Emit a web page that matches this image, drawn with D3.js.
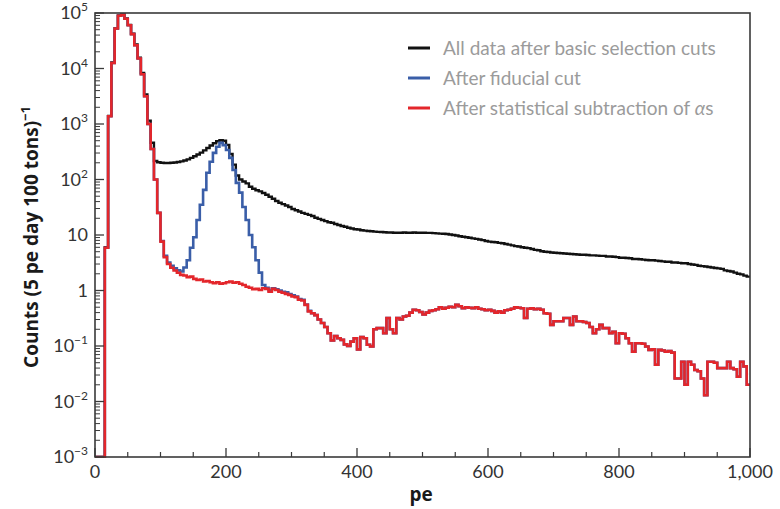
<!DOCTYPE html>
<html><head><meta charset="utf-8">
<script src="https://cdn.jsdelivr.net/npm/d3@7"></script>
<style>body{margin:0;background:#fff}svg{display:block}</style>
</head><body>
<svg id="chart" width="780" height="509"></svg>
<script>
// ---- data (5 pe bins, 0..1000 pe) ----
const binWidth = 5;
const xMax = 1000;
const seriesNames = ["All data after basic selection cuts", "After fiducial cut", "After statistical subtraction of "];
const seriesColors = ["#111111", "#3a5ea8", "#e3262b"];

const allData = [
0,0,0,6.0,1400,12800,53000,90000,94000,80000,
61000,42500,27000,15600,8300,3400,1150,460,215,205,
200,198,198,200,203,207,212,220,230,245,
262,282,305,335,370,410,450,490,510,500,
420,290,185,118,100,92,85,74,68,64,
61,57,53,49,45,41,38,36,34,32,
29.5,28,26.5,25,24,23,22,20.5,19.5,18.6,
17.8,17.0,16.6,15.8,15.1,14.5,14.1,13.5,13.1,12.7,
12.6,12.2,12.0,11.8,11.7,11.5,11.4,11.3,11.2,11.1,
11.1,11.0,11.0,11.0,11.1,11.0,11.0,11.1,11.0,11.0,
11.0,10.9,10.9,10.8,10.7,10.6,10.5,10.4,10.2,10.0,
9.8,9.5,9.3,9.1,8.9,8.7,8.5,8.3,8.1,7.8,
7.6,7.5,7.4,7.2,7.1,6.9,6.7,6.5,6.3,6.2,
6.0,5.9,5.8,5.6,5.4,5.3,5.1,5.0,4.95,4.85,
4.8,4.75,4.7,4.65,4.6,4.55,4.5,4.45,4.4,4.4,
4.35,4.3,4.3,4.25,4.2,4.2,4.1,4.1,4.05,4.0,
3.9,3.9,3.85,3.8,3.7,3.7,3.65,3.6,3.55,3.5,
3.5,3.45,3.4,3.35,3.3,3.3,3.2,3.2,3.15,3.1,
3.1,3.0,2.95,2.9,2.8,2.75,2.7,2.65,2.6,2.55,
2.5,2.45,2.3,2.25,2.2,2.1,2.0,1.95,1.85,1.78];

const fiducial = [
0,0,0,5.9,1380,12600,52500,89000,93000,79000,
60000,41700,26300,15100,7900,3160,1000,355,100,25,
7.8,4.2,3.2,2.8,2.5,2.3,2.2,2.6,3.5,5.9,
9.1,18.6,35,65,132,209,302,389,457,417,
339,245,148,87,58,32,18.6,10,6.0,3.5,
2.1,1.26,1.12,1.0,1.10,1.05,1.0,0.95,0.93,0.86,
0.82,0.78,0.70,0.68,0.56,0.43,0.39,0.36,0.30,0.26,
0.22,0.17,0.126,0.151,0.138,0.129,0.107,0.100,0.120,0.138,
0.087,0.145,0.138,0.105,0.098,0.20,0.21,0.21,0.17,0.32,
0.20,0.17,0.32,0.30,0.34,0.35,0.40,0.45,0.44,0.41,
0.37,0.40,0.43,0.44,0.46,0.50,0.47,0.49,0.51,0.50,
0.55,0.52,0.48,0.50,0.49,0.48,0.50,0.47,0.46,0.44,
0.45,0.43,0.40,0.42,0.40,0.44,0.45,0.47,0.50,0.49,
0.48,0.32,0.47,0.48,0.46,0.47,0.45,0.39,0.38,0.24,
0.28,0.28,0.28,0.32,0.32,0.24,0.34,0.28,0.28,0.27,
0.26,0.22,0.17,0.20,0.24,0.21,0.21,0.17,0.18,0.112,
0.17,0.166,0.138,0.112,0.079,0.112,0.112,0.110,0.098,0.085,
0.087,0.046,0.085,0.083,0.079,0.081,0.076,0.026,0.026,0.052,
0.020,0.052,0.046,0.037,0.035,0.026,0.013,0.052,0.052,0.050,
0.040,0.040,0.040,0.052,0.040,0.038,0.028,0.052,0.043,0.020];

const subtracted = [
0,0,0,5.9,1380,12600,52500,89000,93000,79000,
60000,41700,26300,15100,7900,3160,1000,355,100,25,
7.6,4.0,3.0,2.57,2.29,2.09,1.91,1.86,1.74,1.78,
1.62,1.55,1.58,1.45,1.48,1.41,1.35,1.41,1.32,1.35,
1.41,1.45,1.38,1.41,1.32,1.26,1.17,1.12,1.05,1.07,
1.02,1.10,1.07,0.95,1.07,1.02,0.95,0.91,0.87,0.83,
0.78,0.76,0.68,0.66,0.55,0.42,0.39,0.36,0.30,0.26,
0.22,0.17,0.126,0.151,0.138,0.129,0.107,0.100,0.120,0.138,
0.087,0.145,0.138,0.105,0.098,0.20,0.21,0.21,0.17,0.32,
0.20,0.17,0.32,0.30,0.34,0.35,0.40,0.45,0.44,0.41,
0.37,0.40,0.43,0.44,0.46,0.50,0.47,0.49,0.51,0.50,
0.55,0.52,0.48,0.50,0.49,0.48,0.50,0.47,0.46,0.44,
0.45,0.43,0.40,0.42,0.40,0.44,0.45,0.47,0.50,0.49,
0.48,0.32,0.47,0.48,0.46,0.47,0.45,0.39,0.38,0.24,
0.28,0.28,0.28,0.32,0.32,0.24,0.34,0.28,0.28,0.27,
0.26,0.22,0.17,0.20,0.24,0.21,0.21,0.17,0.18,0.112,
0.17,0.166,0.138,0.112,0.079,0.112,0.112,0.110,0.098,0.085,
0.087,0.046,0.085,0.083,0.079,0.081,0.076,0.026,0.026,0.052,
0.020,0.052,0.046,0.037,0.035,0.026,0.013,0.052,0.052,0.050,
0.040,0.040,0.040,0.052,0.040,0.038,0.028,0.052,0.043,0.020];

const xMajorTicks = [0, 200, 400, 600, 800, 1000];
const xTickLabels = ["0", "200", "400", "600", "800", "1,000"];
const yDecades = [1e-3, 1e-2, 1e-1, 1, 10, 1e2, 1e3, 1e4, 1e5];
const yTickBase = ["10", "10", "10", "1", "10", "10", "10", "10", "10"];
const yTickExp  = ["\u22123", "\u22122", "\u22121", "", "", "2", "3", "4", "5"];

// ---- layout ----
const L = 95, R = 750, T = 13, B = 457;
const svg = d3.select("#chart");
const x = d3.scaleLinear().domain([0, xMax]).range([L, R]);
const y = d3.scaleLog().domain([1e-3, 1e5]).range([B, T]);
const yMin = 1e-3;
const font = "Lato, 'Open Sans', sans-serif";

svg.append("defs").append("clipPath").attr("id", "clip")
  .append("rect").attr("x", L).attr("y", T - 1).attr("width", R - L).attr("height", B - T + 2);

function steps(vals) {
  const pts = vals.map((v, i) => [i * binWidth, v]);
  pts.push([vals.length * binWidth, vals[vals.length - 1]]);
  return pts;
}
const line = d3.line()
  .x(d => x(d[0]))
  .y(d => y(Math.max(d[1], yMin)))
  .curve(d3.curveStepAfter);

const g = svg.append("g").attr("clip-path", "url(#clip)");
[[allData, 0], [fiducial, 1], [subtracted, 2]].forEach(([vals, i]) => {
  g.append("path").attr("d", line(steps(vals)))
    .attr("fill", "none").attr("stroke", seriesColors[i])
    .attr("stroke-width", i === 0 ? 2.4 : 2.6).attr("stroke-linejoin", "miter");
});

// ---- frame & ticks ----
const axisColor = "#3a3a3a";
svg.append("rect").attr("x", L).attr("y", T).attr("width", R - L).attr("height", B - T)
  .attr("fill", "none").attr("stroke", axisColor).attr("stroke-width", 1.6);

const xMinor = d3.range(0, xMax + 1, 50).filter(v => v % 200 !== 0);
svg.append("g").selectAll("line").data(xMinor).join("line")
  .attr("x1", d => x(d)).attr("x2", d => x(d)).attr("y1", B).attr("y2", B - 5)
  .attr("stroke", axisColor).attr("stroke-width", 1.2);
svg.append("g").selectAll("line").data(xMajorTicks).join("line")
  .attr("x1", d => x(d)).attr("x2", d => x(d)).attr("y1", B).attr("y2", B - 9)
  .attr("stroke", axisColor).attr("stroke-width", 1.3);

const yMinor = [];
yDecades.slice(0, -1).forEach(d => { for (let m = 2; m <= 9; m++) yMinor.push(d * m); });
svg.append("g").selectAll("line").data(yMinor).join("line")
  .attr("x1", L).attr("x2", L + 5).attr("y1", d => y(d)).attr("y2", d => y(d))
  .attr("stroke", axisColor).attr("stroke-width", 1);
svg.append("g").selectAll("line").data(yDecades).join("line")
  .attr("x1", L).attr("x2", L + 9).attr("y1", d => y(d)).attr("y2", d => y(d))
  .attr("stroke", axisColor).attr("stroke-width", 1.3);

// ---- tick labels ----
svg.append("g").selectAll("text").data(xMajorTicks).join("text")
  .attr("x", d => x(d)).attr("y", B + 21).attr("text-anchor", "middle")
  .attr("font-family", font).attr("font-size", 18).attr("fill", "#333")
  .text((d, i) => xTickLabels[i]);

const yl = svg.append("g").selectAll("text").data(yDecades).join("text")
  .attr("x", 88).attr("y", d => y(d) + 6).attr("text-anchor", "end")
  .attr("font-family", font).attr("font-size", 18).attr("fill", "#333");
yl.append("tspan").text((d, i) => yTickBase[i]);
yl.append("tspan").attr("font-size", 12).attr("dy", -8).text((d, i) => yTickExp[i]);

// ---- axis titles ----
svg.append("text").attr("x", 421).attr("y", 501).attr("text-anchor", "middle")
  .attr("font-family", "'Open Sans', sans-serif").attr("font-size", 19).attr("font-weight", "bold").attr("fill", "#1a1a1a")
  .text("pe");

const yt = svg.append("text").attr("transform", "translate(38,237) rotate(-90)")
  .attr("text-anchor", "middle").attr("font-family", "'Open Sans', sans-serif").attr("font-size", 19)
  .attr("font-weight", "bold").attr("fill", "#1a1a1a");
yt.append("tspan").text("Counts (5 pe day 100 tons)");
yt.append("tspan").attr("font-size", 13).attr("dy", -8).text("\u22121");

// ---- legend ----
const legY = [48, 78, 108];
const leg = svg.append("g");
seriesNames.forEach((name, i) => {
  leg.append("line").attr("x1", 408).attr("x2", 430).attr("y1", legY[i]).attr("y2", legY[i])
    .attr("stroke", seriesColors[i]).attr("stroke-width", 3);
  const t = leg.append("text").attr("x", 443).attr("y", legY[i] + 6.5)
    .attr("font-family", font).attr("font-size", 19).attr("fill", "#9b9b9b").text(name);
  if (i === 2) {
    t.append("tspan").attr("font-style", "italic").text("\u03b1");
    t.append("tspan").text("s");
  }
});
</script>
</body></html>
